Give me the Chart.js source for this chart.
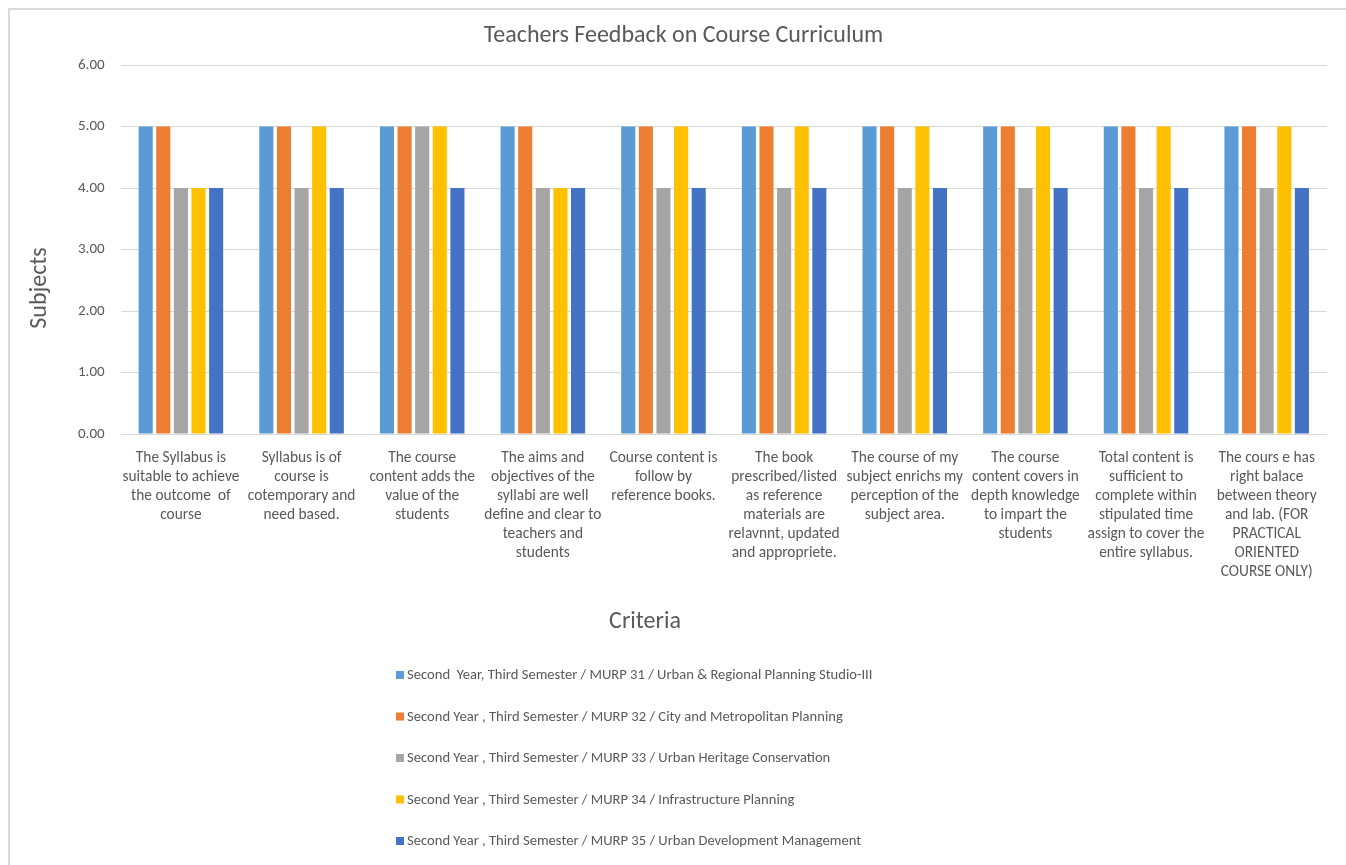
<!DOCTYPE html>
<html>
<head>
<meta charset="utf-8">
<script src="https://cdn.jsdelivr.net/npm/chart.js@4.4.1/dist/chart.umd.min.js"></script>
<style>
  html, body { margin: 0; padding: 0; background: #fff; }
  #box { position: absolute; left: 8px; top: 8px; width: 1336px; height: 855px;
         border-top: 2px solid #d9d9d9; border-left: 2px solid #d9d9d9; }
  canvas { display: block; }
</style>
</head>
<body>
<div id="box"><canvas id="c" width="1336" height="855"></canvas></div>
<script>
const categories = [
  ["The Syllabus is", "suitable to achieve", "the outcome  of", "course"],
  ["Syllabus is of", "course is", "cotemporary and", "need based."],
  ["The course", "content adds the", "value of the", "students"],
  ["The aims and", "objectives of the", "syllabi are well", "define and clear to", "teachers and", "students"],
  ["Course content is", "follow by", "reference books."],
  ["The book", "prescribed/listed", "as reference", "materials are", "relavnnt, updated", "and appropriete."],
  ["The course of my", "subject enrichs my", "perception of the", "subject area."],
  ["The course", "content covers in", "depth knowledge", "to impart the", "students"],
  ["Total content is", "sufficient to", "complete within", "stipulated time", "assign to cover the", "entire syllabus."],
  ["The cours e has", "right balace", "between theory", "and lab. (FOR", "PRACTICAL", "ORIENTED", "COURSE ONLY)"]
];
const seriesNames = [
  "Second  Year, Third Semester / MURP 31 / Urban & Regional Planning Studio-III",
  "Second Year , Third Semester / MURP 32 / City and Metropolitan Planning",
  "Second Year , Third Semester / MURP 33 / Urban Heritage Conservation",
  "Second Year , Third Semester / MURP 34 / Infrastructure Planning",
  "Second Year , Third Semester / MURP 35 / Urban Development Management"
];
const murp31 = [5, 5, 5, 5, 5, 5, 5, 5, 5, 5];
const murp32 = [5, 5, 5, 5, 5, 5, 5, 5, 5, 5];
const murp33 = [4, 4, 5, 4, 4, 4, 4, 4, 4, 4];
const murp34 = [4, 5, 5, 4, 5, 5, 5, 5, 5, 5];
const murp35 = [4, 4, 4, 4, 4, 4, 4, 4, 4, 4];
const yTicks = [0, 1, 2, 3, 4, 5, 6];
const chartTitle = "Teachers Feedback on Course Curriculum";
const xTitle = "Criteria";
const yTitle = "Subjects";

const colors = ["#5B9BD5", "#ED7D31", "#A5A5A5", "#FFC000", "#4472C4"];
const FONT = "Carlito, Lato, sans-serif";
const TXT = "#595959";

const seriesValues = [murp31, murp32, murp33, murp34, murp35];

// Draws the chart title, the axis titles and a one-column legend (Excel style)
const excelDecor = {
  id: 'excelDecor',
  afterDraw(chart) {
    const ctx = chart.ctx;
    ctx.save();
    ctx.fillStyle = TXT;
    ctx.textAlign = "center";
    ctx.textBaseline = "middle";
    ctx.font = "24px " + FONT;
    ctx.fillText(chartTitle, 673.5, 26);
    ctx.fillText(xTitle, 635, 612);
    ctx.save();
    ctx.translate(30, 278);
    ctx.rotate(-Math.PI / 2);
    ctx.fillText(yTitle, 0, 0);
    ctx.restore();

    const x0 = 386, y0 = 665, step = 41.5;
    ctx.font = "14.6px " + FONT;
    ctx.textAlign = "left";
    chart.data.datasets.forEach((ds, i) => {
      const y = y0 + i * step;
      ctx.fillStyle = ds.backgroundColor;
      ctx.fillRect(x0, y - 4, 8, 8);
      ctx.fillStyle = TXT;
      ctx.fillText(ds.label, x0 + 11, y + 0.5);
    });
    ctx.restore();
  }
};

new Chart(document.getElementById('c'), {
  type: 'bar',
  data: {
    labels: categories,
    datasets: seriesValues.map((v, i) => ({
      label: seriesNames[i],
      data: v,
      backgroundColor: colors[i],
      borderWidth: 0,
      categoryPercentage: 0.73,
      barPercentage: 0.8
    }))
  },
  options: {
    responsive: false,
    animation: false,
    layout: { padding: { left: 52, right: 19, top: 55, bottom: 268 } },
    plugins: {
      legend: { display: false },
      tooltip: { enabled: false },
      title: { display: false }
    },
    scales: {
      x: {
        grid: { display: false, drawTicks: false },
        border: { display: false },
        ticks: {
          autoSkip: false, maxRotation: 0, minRotation: 0,
          color: TXT, padding: 15,
          font: { family: FONT, size: 15.4, lineHeight: 19 / 15.4 }
        },
        title: { display: false, text: xTitle }
      },
      y: {
        min: 0, max: 6,
        afterBuildTicks(axis) { axis.ticks = yTicks.map(v => ({ value: v })); },
        grid: { color: "#D9D9D9", lineWidth: 1, drawTicks: false },
        border: { display: false },
        ticks: {
          color: TXT, padding: 16,
          font: { family: FONT, size: 15 },
          callback: v => Number(v).toFixed(2)
        },
        title: { display: false, text: yTitle }
      }
    }
  },
  plugins: [excelDecor]
});
</script>
</body>
</html>
